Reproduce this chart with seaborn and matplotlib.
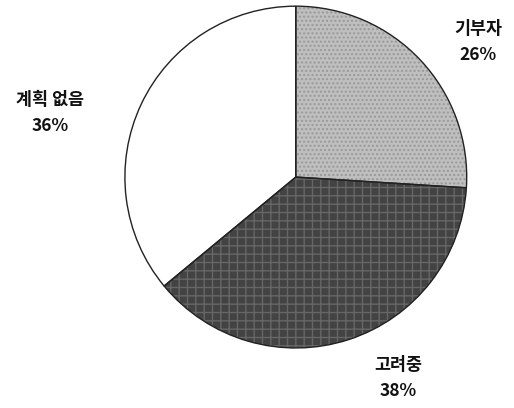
import matplotlib
matplotlib.use("Agg")
import matplotlib.pyplot as plt
import seaborn as sns

# Donation plans share (%)
labels = ["기부자", "고려중", "계획 없음"]
shares = [26, 38, 36]
colors = ["#bfbfbf", "#434343", "#ffffff"]
hatches = ["....", "++", ""]
hatch_colors = ["#999999", "#666666", "#ffffff"]

# label anchor points, in pie radius units
label_pos = [(1.065, 0.79), (0.6, -1.175), (-1.44, 0.375)]


def main():
    sns.set_theme(style="white")
    plt.rcParams["font.family"] = ["Noto Sans CJK KR", "DejaVu Sans"]

    fig = plt.figure(figsize=(5.14, 4.08), dpi=100)
    ax = fig.add_axes([0.243, 0.147, 0.665, 0.838])

    # base slices
    ax.pie(shares, colors=colors, startangle=90, counterclock=False,
           radius=1, wedgeprops=dict(edgecolor="none", linewidth=0))
    # texture overlay
    wedges, _ = ax.pie(shares, colors=["none"] * 3, startangle=90,
                       counterclock=False, radius=1,
                       wedgeprops=dict(linewidth=0))
    for w, h, hc in zip(wedges, hatches, hatch_colors):
        w.set_hatch(h)
        w.set_edgecolor(hc)
        w.set_linewidth(0)
    # outlines
    ax.pie(shares, colors=["none"] * 3, startangle=90, counterclock=False,
           radius=1, wedgeprops=dict(edgecolor="#222222", linewidth=1.0))

    for lab, val, (x, y) in zip(labels, shares, label_pos):
        ax.text(x, y, f"{lab}\n{val}%", ha="center", va="center",
                fontsize=12.5, fontweight="bold", color="#111111",
                linespacing=1.55)

    ax.set_xlim(-1, 1)
    ax.set_ylim(-1, 1)
    ax.set_aspect("equal")
    ax.axis("off")

    fig.savefig("out.png", dpi=100, facecolor="white")
    plt.close(fig)


if __name__ == "__main__":
    main()
